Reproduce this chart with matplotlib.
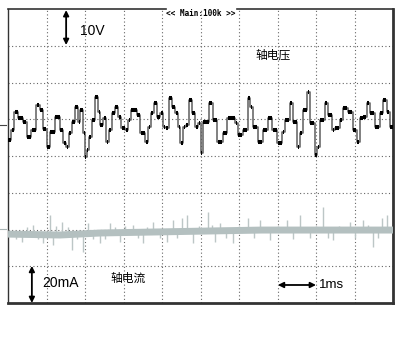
import numpy as np
import matplotlib
matplotlib.use("Agg")
import matplotlib.pyplot as plt

plt.rcParams['font.family'] = ['Liberation Sans', 'Noto Sans CJK SC', 'DejaVu Sans']

# shaft voltage (V), step start times in ms
v_time = [0.00, 0.08, 0.16, 0.26, 0.39, 0.49, 0.60, 0.73, 0.83, 0.91, 1.01, 1.09,
          1.22, 1.35, 1.43, 1.51, 1.58, 1.66, 1.74, 1.82, 1.87, 1.95, 2.00, 2.05,
          2.10, 2.18, 2.26, 2.34, 2.39, 2.47, 2.55, 2.62, 2.70, 2.78, 2.86, 2.94,
          3.04, 3.12, 3.19, 3.35, 3.43, 3.56, 3.64, 3.71, 3.79, 3.87, 3.95, 4.03,
          4.10, 4.18, 4.26, 4.34, 4.42, 4.47, 4.55, 4.62, 4.70, 4.78, 4.86, 4.94,
          5.01, 5.06, 5.22, 5.32, 5.43, 5.58, 5.69, 5.90, 5.97, 6.10, 6.23, 6.29,
          6.36, 6.49, 6.62, 6.75, 6.86, 6.99, 7.12, 7.19, 7.32, 7.40, 7.51, 7.58,
          7.66, 7.77, 7.84, 7.97, 8.03, 8.10, 8.23, 8.31, 8.42, 8.49, 8.62, 8.70,
          8.83, 8.96, 9.06, 9.14, 9.22, 9.32, 9.40, 9.53, 9.66, 9.74, 9.84, 9.92]
v_level = [-5.7, -3.0, 1.9, 0.3, -0.8, -4.9, -3.0, 3.8, 2.4, -2.7, -7.6, -3.5,
           0.5, -3.0, -6.5, -7.6, -3.8, -0.8, 3.3, -0.8, 2.4, -3.8, -10.3, -8.4,
           -4.9, -0.3, 6.0, 1.9, -1.6, 0.3, -6.3, -3.0, 1.6, 3.3, 0.5, -2.4,
           -3.0, -0.3, 2.4, 1.1, -3.8, -6.3, -2.2, 1.6, 4.4, 0.5, 1.6, -2.2,
           -2.4, 5.7, 3.3, 1.6, -2.2, -6.5, -2.2, -1.6, 5.2, 1.6, -2.2, -1.1,
           -9.3, -0.8, 4.4, -0.3, -6.3, -3.8, 0.3, -1.1, -4.4, -3.0, 5.7, 3.3,
           -2.2, -6.3, -3.0, 0.3, -3.0, -6.5, -3.5, -0.3, 4.4, -0.8, -7.6, -3.8,
           2.4, 7.3, -1.1, -9.8, -7.6, -0.3, 4.4, 1.1, -3.0, -2.4, -0.3, 3.0,
           1.9, -3.0, -6.3, 0.3, 0.5, 4.4, 1.6, -2.2, 1.6, 5.2, 1.9, -2.2]

# shaft current (mA): slow baseline and spikes
i_time = [0.0, 1.35, 2.4, 3.7, 5.0, 6.6, 7.6, 10.0]
i_base = [-1.1, -1.6, -0.5, 0.0, 0.5, 1.1, 1.1, 1.1]
spike_time = [0.36, 0.65, 0.91, 1.09, 1.17, 1.40, 1.66, 1.95, 2.08, 2.39, 2.65,
              2.91, 3.25, 3.51, 3.77, 4.13, 4.29, 4.52, 4.65, 4.81, 5.19, 5.38,
              5.51, 5.84, 6.23, 6.55, 6.81, 7.25, 7.58, 7.84, 8.18, 8.44, 8.88,
              9.22, 9.48, 9.71, 9.84,
              0.20, 0.50, 0.78, 1.25, 1.55, 1.80, 2.20, 2.52, 2.78, 3.05, 3.38,
              3.62, 3.95, 4.40, 4.95, 5.30, 5.65, 6.00, 6.40, 6.70, 7.00, 7.40,
              7.70, 8.00, 8.30, 8.60, 9.00, 9.35, 9.60, 9.92]
spike_val = [-5.3, 3.8, -6.0, 9.2, -7.1, 5.6, -9.8, -10.7, 4.7, -6.2, 4.7,
             -5.3, 3.8, -6.2, 5.6, -5.3, 6.5, 7.4, 9.2, -6.2, 11.0, -5.3,
             4.7, -6.2, 7.4, 6.5, -4.4, 6.5, 9.2, -3.4, 13.8, -4.4, 5.6,
             6.5, -8.0, 7.4, 9.2,
             -3.5, 3.0, -3.8, 3.2, 2.8, -4.0, -3.6, -3.8, 3.0, 3.4, -3.2,
             3.0, -3.4, -3.0, 3.2, 3.6, -3.0, 3.2, -3.4, 3.0, 3.4, -3.6,
             3.0, 3.2, -3.0, 3.4, -3.2, 3.6, -3.4, 3.0]

V_OFF, V_SCALE = 1.0, 10.0    # ground at +1 div, 10 V/div
I_OFF, I_SCALE = -2.07, 20.0  # ground at -2.07 div, 20 mA/div

fig = plt.figure(figsize=(4.0, 3.42), dpi=100)
ax = fig.add_axes([8 / 400, 1 - 303 / 342, 385 / 400, 294 / 342])
ax.set_xlim(0, 10)
ax.set_ylim(-4, 4)
ax.set_xticks([])
ax.set_yticks([])

# dotted graticule
for gx in range(1, 10):
    ax.axvline(gx, color='#666666', lw=0.8, ls=(0, (1, 2.2)), zorder=1)
for gy in range(-3, 4):
    ax.axhline(gy, color='#666666', lw=0.8, ls=(0, (1, 2.2)), zorder=1)

# frame
for s in ['left', 'right', 'bottom']:
    ax.spines[s].set_color('#333333')
ax.spines['left'].set_linewidth(1.0)
ax.spines['right'].set_linewidth(2.0)
ax.spines['bottom'].set_linewidth(2.0)
ax.spines['top'].set_visible(False)
ax.plot([0, 4.1], [4, 4], color='#333333', lw=1.2, clip_on=False, zorder=5)
ax.plot([5.95, 10], [4, 4], color='#333333', lw=1.2, clip_on=False, zorder=5)

# current trace
it = np.array(i_time)
ib = I_OFF + np.array(i_base) / I_SCALE
sb = np.interp(spike_time, it, ib)
ax.vlines(spike_time, sb, I_OFF + np.array(spike_val) / I_SCALE,
          color='#bcc6c6', lw=1.0, zorder=2)
ax.plot(it, ib, color='#b4c0c0', lw=5.0, solid_capstyle='butt', zorder=3)

# voltage trace
t = np.array(v_time)
v = V_OFF + np.array(v_level) / V_SCALE
t_end = np.append(t[1:], 10.0)
ax.step(np.append(t, 10.0), np.append(v, v[-1]), where='post',
        color='#5e5e5e', lw=1.1, zorder=3)
ax.hlines(v, t + 0.012, t_end - 0.012, color='black', lw=2.9, zorder=4)

# ground markers
ax.plot([-0.2, -0.06], [0.84, 0.84], color='#444444', lw=0.8, clip_on=False)
ax.plot([-0.2, -0.06], [-1.99, -1.99], color='#aab6b6', lw=0.8, clip_on=False)

# annotations
arrow = dict(arrowstyle='<|-|>', color='black', lw=1.3, mutation_scale=8,
             shrinkA=0, shrinkB=0)
ax.annotate('', xy=(1.51, 3.97), xytext=(1.51, 3.02), arrowprops=arrow)
ax.text(1.87, 3.40, '10V', fontsize=10, va='center', ha='left')
ax.annotate('', xy=(0.62, -2.99), xytext=(0.62, -4.0), arrowprops=arrow,
            annotation_clip=False)
ax.text(0.88, -3.46, '20mA', fontsize=10, va='center', ha='left')
ax.annotate('', xy=(7.01, -3.51), xytext=(8.0, -3.51), arrowprops=arrow)
ax.text(8.08, -3.51, '1ms', fontsize=9.5, va='center', ha='left')
ax.text(6.42, 2.75, '轴电压', fontsize=8.5, va='center', ha='left',
        family=['Noto Sans CJK SC', 'DejaVu Sans'])
ax.text(2.65, -3.32, '轴电流', fontsize=8.5, va='center', ha='left',
        family=['Noto Sans CJK SC', 'DejaVu Sans'])
ax.text(5.0, 3.89, '<< Main:100k >>', fontsize=5.6, va='center', ha='center',
        family='DejaVu Sans Mono', fontweight='bold')

fig.savefig('out.png', dpi=100)
